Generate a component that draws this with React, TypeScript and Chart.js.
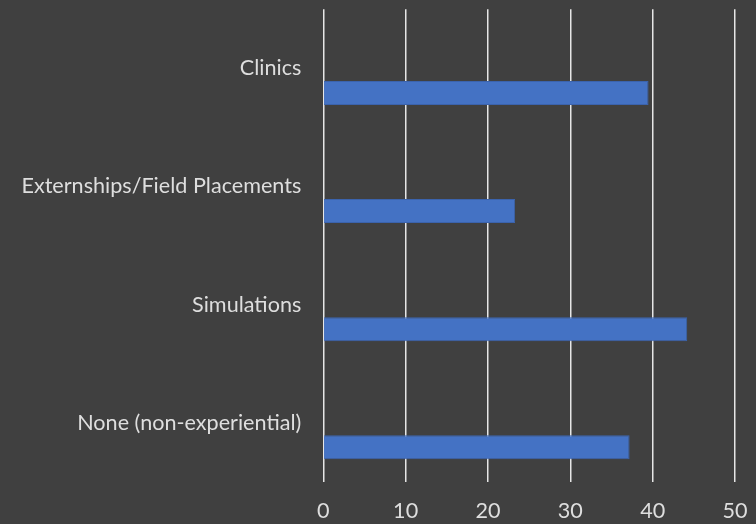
import React, { useEffect, useRef } from "react";
import { Chart, registerables } from "chart.js";

Chart.register(...registerables);

const categories = ["Clinics", "Externships/Field Placements", "Simulations", "None (non-experiential)"];
const values = [39.5, 23.3, 44.2, 37.2];
const emptyA = [null, null, null, null];
const emptyB = [null, null, null, null];

const TEXT = "#dedede";
const FONT = "Lato, 'Open Sans', sans-serif";
const FSIZE = 21.6;

export default function App() {
  const ref = useRef<HTMLCanvasElement | null>(null);
  useEffect(() => {
    document.body.style.margin = "0";
    document.body.style.background = "#404040";
    const bg = {
      id: "bg",
      beforeDraw(c: any) {
        const ctx = c.ctx;
        ctx.save();
        ctx.fillStyle = "#404040";
        ctx.fillRect(0, 0, c.width, c.height);
        ctx.restore();
      },
    };
    const chart = new Chart(ref.current as HTMLCanvasElement, {
      type: "bar",
      data: {
        labels: categories,
        datasets: [
          { data: emptyA as any, backgroundColor: "transparent" },
          { data: emptyB as any, backgroundColor: "transparent" },
          {
            data: values,
            backgroundColor: "#4472C4",
            borderColor: "#3b63ad",
            borderWidth: 1,
          },
        ],
      },
      options: {
        indexAxis: "y",
        animation: false,
        responsive: false,
        maintainAspectRatio: false,
        layout: { padding: { top: 9.3, right: 21, left: 0, bottom: 0 } },
        datasets: { bar: { categoryPercentage: 0.625, barPercentage: 0.976 } },
        plugins: { legend: { display: false }, tooltip: { enabled: false } },
        scales: {
          x: {
            min: 0,
            max: 50,
            ticks: { stepSize: 10, color: TEXT, font: { family: FONT, size: FSIZE }, padding: 16 },
            grid: { color: "#e6e6e6", lineWidth: 1.5, drawTicks: false },
            border: { display: false },
            afterFit(s: any) {
              s.height = 42.3;
              s.paddingLeft = 0;
              s.paddingRight = 0;
            },
          },
          y: {
            ticks: { color: TEXT, font: { family: FONT, size: FSIZE }, padding: 22 },
            grid: { display: false, drawTicks: false },
            border: { display: false },
            afterFit(s: any) {
              s.width = 323.3;
              s.paddingTop = 0;
              s.paddingBottom = 0;
            },
          },
        },
      },
      plugins: [bg],
    });
    return () => chart.destroy();
  }, []);
  return <canvas ref={ref} width={756} height={524} style={{ display: "block" }} />;
}
